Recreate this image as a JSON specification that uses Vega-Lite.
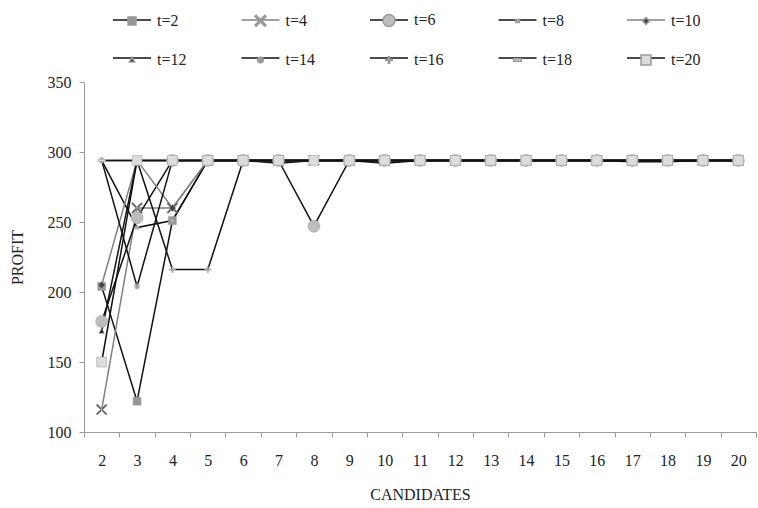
{
"$schema": "https://vega.github.io/schema/vega-lite/v6.json",
"width": 672, "height": 350,
"autosize": {"type": "none"},
"padding": {"left": 84, "top": 82, "right": 2, "bottom": 76},
"background": "white",
"data": {"values": [
{"t":2,"c":2,"p":204},{"t":2,"c":3,"p":122},{"t":2,"c":4,"p":251},{"t":2,"c":5,"p":294},{"t":2,"c":6,"p":294},{"t":2,"c":7,"p":294},{"t":2,"c":8,"p":294},{"t":2,"c":9,"p":294},{"t":2,"c":10,"p":294},{"t":2,"c":11,"p":294},{"t":2,"c":12,"p":294},{"t":2,"c":13,"p":294},{"t":2,"c":14,"p":294},{"t":2,"c":15,"p":294},{"t":2,"c":16,"p":294},{"t":2,"c":17,"p":294},{"t":2,"c":18,"p":294},{"t":2,"c":19,"p":294},{"t":2,"c":20,"p":294},
{"t":4,"c":2,"p":116},{"t":4,"c":3,"p":260},{"t":4,"c":4,"p":260},{"t":4,"c":5,"p":294},{"t":4,"c":6,"p":294},{"t":4,"c":7,"p":294},{"t":4,"c":8,"p":294},{"t":4,"c":9,"p":294},{"t":4,"c":10,"p":294},{"t":4,"c":11,"p":294},{"t":4,"c":12,"p":294},{"t":4,"c":13,"p":294},{"t":4,"c":14,"p":294},{"t":4,"c":15,"p":294},{"t":4,"c":16,"p":294},{"t":4,"c":17,"p":294},{"t":4,"c":18,"p":294},{"t":4,"c":19,"p":294},{"t":4,"c":20,"p":294},
{"t":6,"c":2,"p":179},{"t":6,"c":3,"p":253},{"t":6,"c":4,"p":294},{"t":6,"c":5,"p":294},{"t":6,"c":6,"p":294},{"t":6,"c":7,"p":294},{"t":6,"c":8,"p":247},{"t":6,"c":9,"p":294},{"t":6,"c":10,"p":294},{"t":6,"c":11,"p":294},{"t":6,"c":12,"p":294},{"t":6,"c":13,"p":294},{"t":6,"c":14,"p":294},{"t":6,"c":15,"p":294},{"t":6,"c":16,"p":294},{"t":6,"c":17,"p":294},{"t":6,"c":18,"p":294},{"t":6,"c":19,"p":294},{"t":6,"c":20,"p":294},
{"t":8,"c":2,"p":294},{"t":8,"c":3,"p":246},{"t":8,"c":4,"p":251},{"t":8,"c":5,"p":294},{"t":8,"c":6,"p":294},{"t":8,"c":7,"p":292},{"t":8,"c":8,"p":294},{"t":8,"c":9,"p":294},{"t":8,"c":10,"p":294},{"t":8,"c":11,"p":294},{"t":8,"c":12,"p":294},{"t":8,"c":13,"p":294},{"t":8,"c":14,"p":294},{"t":8,"c":15,"p":294},{"t":8,"c":16,"p":294},{"t":8,"c":17,"p":294},{"t":8,"c":18,"p":294},{"t":8,"c":19,"p":294},{"t":8,"c":20,"p":294},
{"t":10,"c":2,"p":205},{"t":10,"c":3,"p":294},{"t":10,"c":4,"p":260},{"t":10,"c":5,"p":294},{"t":10,"c":6,"p":294},{"t":10,"c":7,"p":294},{"t":10,"c":8,"p":294},{"t":10,"c":9,"p":294},{"t":10,"c":10,"p":294},{"t":10,"c":11,"p":294},{"t":10,"c":12,"p":294},{"t":10,"c":13,"p":294},{"t":10,"c":14,"p":294},{"t":10,"c":15,"p":294},{"t":10,"c":16,"p":294},{"t":10,"c":17,"p":294},{"t":10,"c":18,"p":294},{"t":10,"c":19,"p":294},{"t":10,"c":20,"p":294},
{"t":12,"c":2,"p":172},{"t":12,"c":3,"p":294},{"t":12,"c":4,"p":294},{"t":12,"c":5,"p":294},{"t":12,"c":6,"p":294},{"t":12,"c":7,"p":294},{"t":12,"c":8,"p":294},{"t":12,"c":9,"p":294},{"t":12,"c":10,"p":292},{"t":12,"c":11,"p":294},{"t":12,"c":12,"p":294},{"t":12,"c":13,"p":294},{"t":12,"c":14,"p":294},{"t":12,"c":15,"p":294},{"t":12,"c":16,"p":294},{"t":12,"c":17,"p":294},{"t":12,"c":18,"p":294},{"t":12,"c":19,"p":294},{"t":12,"c":20,"p":294},
{"t":14,"c":2,"p":294},{"t":14,"c":3,"p":204},{"t":14,"c":4,"p":294},{"t":14,"c":5,"p":294},{"t":14,"c":6,"p":294},{"t":14,"c":7,"p":294},{"t":14,"c":8,"p":294},{"t":14,"c":9,"p":294},{"t":14,"c":10,"p":294},{"t":14,"c":11,"p":294},{"t":14,"c":12,"p":294},{"t":14,"c":13,"p":294},{"t":14,"c":14,"p":294},{"t":14,"c":15,"p":294},{"t":14,"c":16,"p":294},{"t":14,"c":17,"p":294},{"t":14,"c":18,"p":294},{"t":14,"c":19,"p":294},{"t":14,"c":20,"p":294},
{"t":16,"c":2,"p":294},{"t":16,"c":3,"p":294},{"t":16,"c":4,"p":216},{"t":16,"c":5,"p":216},{"t":16,"c":6,"p":294},{"t":16,"c":7,"p":294},{"t":16,"c":8,"p":294},{"t":16,"c":9,"p":294},{"t":16,"c":10,"p":294},{"t":16,"c":11,"p":294},{"t":16,"c":12,"p":294},{"t":16,"c":13,"p":294},{"t":16,"c":14,"p":294},{"t":16,"c":15,"p":294},{"t":16,"c":16,"p":294},{"t":16,"c":17,"p":294},{"t":16,"c":18,"p":294},{"t":16,"c":19,"p":294},{"t":16,"c":20,"p":294},
{"t":18,"c":2,"p":294},{"t":18,"c":3,"p":294},{"t":18,"c":4,"p":294},{"t":18,"c":5,"p":294},{"t":18,"c":6,"p":294},{"t":18,"c":7,"p":294},{"t":18,"c":8,"p":294},{"t":18,"c":9,"p":294},{"t":18,"c":10,"p":294},{"t":18,"c":11,"p":294},{"t":18,"c":12,"p":294},{"t":18,"c":13,"p":294},{"t":18,"c":14,"p":294},{"t":18,"c":15,"p":294},{"t":18,"c":16,"p":294},{"t":18,"c":17,"p":293},{"t":18,"c":18,"p":293},{"t":18,"c":19,"p":294},{"t":18,"c":20,"p":294},
{"t":20,"c":2,"p":150},{"t":20,"c":3,"p":294},{"t":20,"c":4,"p":294},{"t":20,"c":5,"p":294},{"t":20,"c":6,"p":294},{"t":20,"c":7,"p":294},{"t":20,"c":8,"p":294},{"t":20,"c":9,"p":294},{"t":20,"c":10,"p":294},{"t":20,"c":11,"p":294},{"t":20,"c":12,"p":294},{"t":20,"c":13,"p":294},{"t":20,"c":14,"p":294},{"t":20,"c":15,"p":294},{"t":20,"c":16,"p":294},{"t":20,"c":17,"p":294},{"t":20,"c":18,"p":294},{"t":20,"c":19,"p":294},{"t":20,"c":20,"p":294}
]},
"encoding": {
  "x": {"field": "c", "type": "ordinal", "title": "CANDIDATES",
        "scale": {"type": "band", "paddingInner": 0, "paddingOuter": 0},
        "axis": {"labelAngle": 0, "tickBand": "extent", "labelPadding": 15, "titlePadding": 18}},
  "y": {"field": "p", "type": "quantitative", "title": "PROFIT",
        "scale": {"domain": [100, 350], "nice": false, "zero": false},
        "axis": {"values": [100, 150, 200, 250, 300, 350], "labelPadding": 8, "titlePadding": 22}}
},
"layer": [
  {"mark": {"type": "line", "strokeWidth": 1.5},
   "encoding": {
     "stroke": {"field": "t", "type": "ordinal",
       "scale": {"domain": [2,4,6,8,10,12,14,16,18,20],
                 "range": ["#111111","#808080","#111111","#111111","#808080","#111111","#111111","#111111","#111111","#111111"]},
       "legend": {"title": null, "symbolType": "stroke", "symbolStrokeWidth": 1.5, "labelExpr": "''", "columnPadding": 81.5}}
   }},
  {"mark": {"type": "point", "filled": true, "size": 1444, "opacity": 1, "stroke": "#9a9a9a", "strokeWidth": 0.5},
   "encoding": {
     "fill": {"field": "t", "type": "ordinal",
       "scale": {"range": ["#969696","#555555","#bdbdbd","#b0b0b0","#444444","#222222","#cccccc","#b8b8b8","#dedede","#dcdcdc"]},
       "legend": {"title": null, "labelExpr": "'t=' + datum.label"}},
     "shape": {"field": "t", "type": "ordinal",
       "scale": {"range": [
         "M-0.21,-0.21H0.21V0.21H-0.21Z",
         "M-0.29,-0.23L0.23,0.29L0.29,0.23L-0.23,-0.29Z M-0.29,0.23L0.23,-0.29L0.29,-0.23L-0.23,0.29Z",
         "M-0.316,0A0.316,0.316 0 1,0 0.316,0A0.316,0.316 0 1,0 -0.316,0Z",
         "M-0.1,-0.08H0.1V0.08H-0.1Z",
         "M0,-0.18L0.18,0L0,0.18L-0.18,0Z",
         "M0,-0.14L0.14,0.11H-0.14Z",
         "M-0.15,-0.025H0.15V0.025H-0.15Z M-0.025,-0.15H0.025V0.15H-0.025Z M-0.12,-0.09L0.09,0.12L0.12,0.09L-0.09,-0.12Z M-0.12,0.09L0.09,-0.12L0.12,-0.09L-0.09,0.12Z",
         "M-0.17,-0.03H0.17V0.03H-0.17Z M-0.03,-0.17H0.03V0.17H-0.03Z",
         "M-0.2,-0.06H0.2V0.06H-0.2Z",
         "M-0.26,-0.26H0.26V0.26H-0.26Z"
       ]},
       "legend": {"title": null, "labelExpr": "'t=' + datum.label"}}
   }}
],
"config": {
  "font": "Liberation Serif",
  "view": {"stroke": null},
  "axis": {"grid": false, "domainColor": "#9a9a9a", "tickColor": "#9a9a9a", "tickSize": 5,
           "labelFont": "Liberation Serif", "labelFontSize": 16, "labelColor": "#222222",
           "titleFont": "Liberation Serif", "titleFontSize": 16, "titleFontWeight": "normal", "titleColor": "#222222"},
  "legend": {"orient": "none", "direction": "horizontal", "legendX": 28, "legendY": -82, "columns": 5, "gridAlign": "all",
             "columnPadding": 53.5, "rowPadding": 10, "symbolSize": 1444, "padding": 0,
             "labelFont": "Liberation Serif", "labelFontSize": 16, "labelColor": "#222222", "labelOffset": 5}
}
}
